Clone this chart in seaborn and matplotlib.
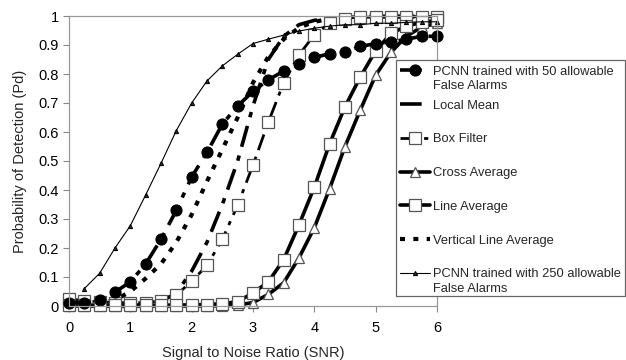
import numpy as np
import pandas as pd
import matplotlib
matplotlib.use("Agg")
import matplotlib.pyplot as plt
from matplotlib.patches import Rectangle
import seaborn as sns

snr = [0.0, 0.25, 0.5, 0.75, 1.0, 1.25, 1.5, 1.75, 2.0, 2.25, 2.5, 2.75, 3.0,
       3.25, 3.5, 3.75, 4.0, 4.25, 4.5, 4.75, 5.0, 5.25, 5.5, 5.75, 6.0]

pcnn50 = [0.012, 0.012, 0.02, 0.048, 0.083, 0.145, 0.23, 0.33, 0.445, 0.53, 0.627, 0.69, 0.74,
          0.78, 0.81, 0.835, 0.857, 0.87, 0.876, 0.895, 0.905, 0.91, 0.92, 0.93, 0.93]
local_mean = [0.015, 0.015, 0.014, 0.012, 0.008, 0.007, 0.015, 0.045, 0.12, 0.22, 0.35, 0.5, 0.69,
              0.85, 0.93, 0.97, 0.985, 0.99, 0.995, 0.997, 0.998, 0.998, 0.998, 0.998, 0.998]
box_filter = [0.025, 0.018, 0.014, 0.012, 0.01, 0.012, 0.018, 0.038, 0.085, 0.14, 0.23, 0.348, 0.486,
              0.634, 0.77, 0.866, 0.935, 0.975, 0.99, 0.995, 0.997, 0.998, 0.998, 0.998, 0.998]
cross_avg = [0.0, 0.0, 0.0, 0.0, 0.0, 0.0, 0.0, 0.0, 0.0, 0.0, 0.001, 0.003, 0.012,
             0.04, 0.08, 0.166, 0.27, 0.405, 0.55, 0.676, 0.796, 0.875, 0.93, 0.962, 0.975]
line_avg = [0.003, 0.003, 0.003, 0.003, 0.003, 0.003, 0.003, 0.003, 0.004, 0.005, 0.008, 0.015, 0.045,
            0.083, 0.16, 0.28, 0.41, 0.56, 0.687, 0.79, 0.88, 0.94, 0.965, 0.978, 0.985]
vert_line_avg = [0.01, 0.01, 0.012, 0.02, 0.05, 0.095, 0.145, 0.22, 0.315, 0.43, 0.54, 0.65, 0.77,
                 0.86, 0.92, 0.96, 0.98, 0.99, 0.995, 0.997, 0.998, 0.998, 0.998, 0.998, 0.998]
snr_250 = snr[1:]
pcnn250 = [0.06, 0.113, 0.2, 0.277, 0.383, 0.492, 0.605, 0.7, 0.776, 0.828, 0.868, 0.905,
           0.92, 0.934, 0.948, 0.958, 0.965, 0.97, 0.97, 0.975, 0.975, 0.978, 0.98, 0.98]

labels = ["PCNN trained with 50 allowable", "Local Mean", "Box Filter",
          "Cross Average", "Line Average", "Vertical Line Average",
          "PCNN trained with 250 allowable"]
second_lines = {0: "False Alarms", 6: "False Alarms"}

sns.set_style("white")
plt.rcParams['font.family'] = ['Liberation Sans', 'DejaVu Sans']

W, H = 626, 360
fig = plt.figure(figsize=(W / 100, H / 100), dpi=100)
ax = fig.add_axes([69 / W, 1 - 306 / H, (437 - 69) / W, (306 - 16) / H])

dashdot = (0, (6, 2.5, 1.5, 2.5))
series = [
    (snr, pcnn50, dict(linestyle=dashdot, lw=2.6, marker='o', ms=8, mfc='black', mec='black')),
    (snr, local_mean, dict(linestyle=dashdot, lw=2.6)),
    (snr, box_filter, dict(linestyle=dashdot, lw=2.0, marker='s', ms=8, mfc='white', mec='#555555', mew=0.9)),
    (snr, cross_avg, dict(linestyle='-', lw=2.6, marker='^', ms=6.5, mfc='white', mec='#555555', mew=0.9)),
    (snr, line_avg, dict(linestyle='-', lw=2.6, marker='s', ms=8, mfc='white', mec='#555555', mew=0.9)),
    (snr, vert_line_avg, dict(linestyle=(0, (1.2, 2.0)), lw=3.0)),
    (snr_250, pcnn250, dict(linestyle='-', lw=0.8, marker='^', ms=3, mfc='#333333', mec='black')),
]
order = [1, 5, 2, 3, 4, 0, 6]
handles = [None] * len(series)
for i in order:
    xs, ys, kw = series[i]
    df = pd.DataFrame({"snr": xs, "pd": ys})
    sns.lineplot(data=df, x="snr", y="pd", ax=ax, color='black', clip_on=False,
                 label=labels[i], legend=False, **kw)
    handles[i] = ax.lines[-1]

ax.set_xlim(0, 6)
ax.set_ylim(0, 1)
ax.set_xticks([0, 1, 2, 3, 4, 5, 6])
ax.set_yticks([0, 0.1, 0.2, 0.3, 0.4, 0.5, 0.6, 0.7, 0.8, 0.9, 1])
ax.set_yticklabels(["0", "0.1", "0.2", "0.3", "0.4", "0.5", "0.6", "0.7", "0.8", "0.9", "1"])
ax.tick_params(axis='both', direction='out', length=4, width=0.8, color='#888888',
               labelsize=10.5, labelcolor='black', bottom=True, left=True)
ax.tick_params(axis='x', pad=7)
for s in ax.spines.values():
    s.set_color('#999999')
    s.set_linewidth(0.9)
ax.set_xlabel("Signal to Noise Ratio (SNR)", fontsize=10.5, labelpad=8)
ax.set_ylabel("Probability of Detection (Pd)", fontsize=10.5, labelpad=8)

# legend frame
frame = Rectangle((396 / W, 1 - 296 / H), (625 - 396) / W, (296 - 60) / H,
                  transform=fig.transFigure, facecolor='white', edgecolor='#666666',
                  lw=0.9, zorder=3)
fig.add_artist(frame)

leg_fs = 9.3
leg = fig.legend(handles, labels, loc='upper left', bbox_to_anchor=(396 / W, 1 - 62 / H),
                 bbox_transform=fig.transFigure, frameon=False,
                 fontsize=leg_fs, labelspacing=1.68, handlelength=2.3, handletextpad=0.25,
                 borderpad=0.3, borderaxespad=0)
leg.set_zorder(5)

fig.canvas.draw()
renderer = fig.canvas.get_renderer()
for idx, txt in second_lines.items():
    bb = leg.get_texts()[idx].get_window_extent(renderer)
    yc = (bb.y0 + bb.y1) / 2 - 14.5
    fig.text(bb.x0 / W, yc / H, txt, fontsize=leg_fs, va='center', ha='left', zorder=6)

fig.savefig("out.png", dpi=100, facecolor='white')
